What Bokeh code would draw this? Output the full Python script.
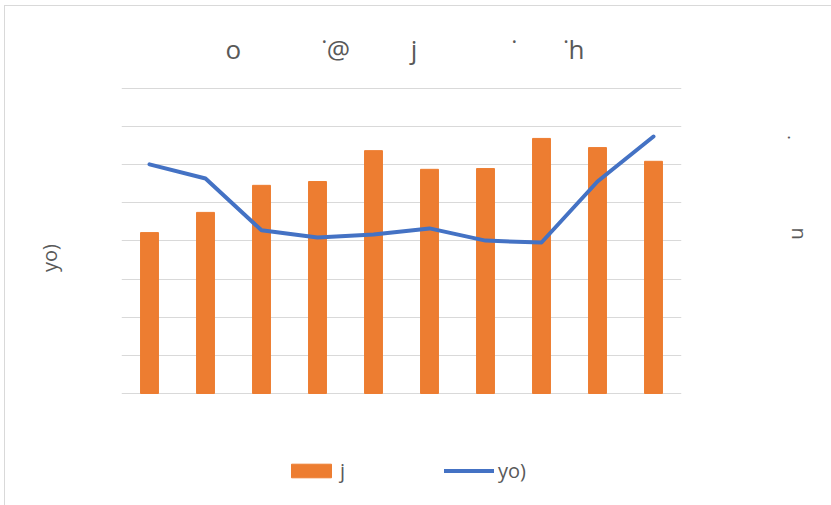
import math
from bokeh.plotting import figure
from bokeh.models import Range1d, FactorRange, FixedTicker, Legend, LegendItem, LinearAxis
from bokeh.embed import file_html
from bokeh.resources import INLINE

NB = "\u00a0"
categories = ["1", "2", "3", "4", "5", "6", "7", "8", "9", "10"]
bar_values = [42.2, 47.5, 54.6, 55.6, 63.7, 58.8, 59.0, 66.9, 64.5, 60.9]
line_values = [60.1, 56.4, 42.8, 40.9, 41.7, 43.3, 40.1, 39.6, 55.6, 67.4]
grid_ticks = [0, 10, 20, 30, 40, 50, 60, 70, 80]
title_text = NB + "o" + NB * 12 + "\u02d9@" + NB * 9 + "j" + NB * 14 + "\u02d9" + NB * 7 + "\u02d9h"
bar_label = "j"
line_label = "yo)"
left_label = NB * 15 + "yo)"
right_label = NB * 11 + "u" + NB * 17 + "\u02d9"

TEXT = "#595959"
FONT = "Open Sans"
W, H = 827, 500
Y_LOW, Y_HIGH = -29.64, 80.26

p = figure(width=W, height=H, x_range=FactorRange(*categories), y_range=Range1d(Y_LOW, Y_HIGH),
           extra_y_ranges={"right": Range1d(Y_LOW, Y_HIGH)},
           output_backend="svg", toolbar_location=None, y_axis_location=None, x_axis_location=None,
           min_border_left=116, min_border_right=151, min_border_top=81, min_border_bottom=0)
p.xgrid.visible = False
p.ygrid.ticker = FixedTicker(ticks=grid_ticks)
p.ygrid.grid_line_color = "#d9d9d9"
p.ygrid.grid_line_width = 1
p.outline_line_color = None
p.styles = {"border-left": "1px solid #d9d9d9", "border-top": "1px solid #d9d9d9",
            "margin-left": "4px", "margin-top": "5px"}

p.title.text = title_text
p.title.align = "center"
p.title.text_font = FONT
p.title.text_font_size = "26px"
p.title.text_font_style = "normal"
p.title.text_color = TEXT
p.title.standoff = 42


def label_axis(label, side, standoff, y_range_name="default"):
    ax = LinearAxis(axis_label=label, y_range_name=y_range_name, ticker=FixedTicker(ticks=[]),
                    axis_line_color=None, major_tick_line_color=None, minor_tick_line_color=None,
                    major_tick_out=0, major_tick_in=0, major_label_standoff=0,
                    major_label_text_font_size="0px", axis_label_standoff=standoff,
                    axis_label_text_font=FONT, axis_label_text_font_size="20px",
                    axis_label_text_font_style="normal", axis_label_text_color=TEXT)
    p.add_layout(ax, side)
    return ax


label_axis(left_label, "left", 59)
rax = label_axis(right_label, "right", 114, "right")
try:
    rax.axis_label_orientation = math.pi / 2
except Exception:
    pass

bars = p.vbar(x=categories, top=bar_values, width=0.32, color="#ED7D31")
line = p.line(x=categories, y=line_values, line_width=4, color="#4472C4",
              line_join="round", line_cap="round", y_range_name="right")

legend = Legend(items=[LegendItem(label=bar_label, renderers=[bars]),
                       LegendItem(label=line_label, renderers=[line])],
                orientation="horizontal", location=(165, 22),
                glyph_width=50, glyph_height=17, label_standoff=4, spacing=84,
                label_text_font_size="20px", label_text_color=TEXT, label_text_font=FONT,
                border_line_color=None, background_fill_alpha=0, padding=0, margin=0)
p.add_layout(legend, "center")

open("out.html", "w").write(file_html(p, INLINE))
